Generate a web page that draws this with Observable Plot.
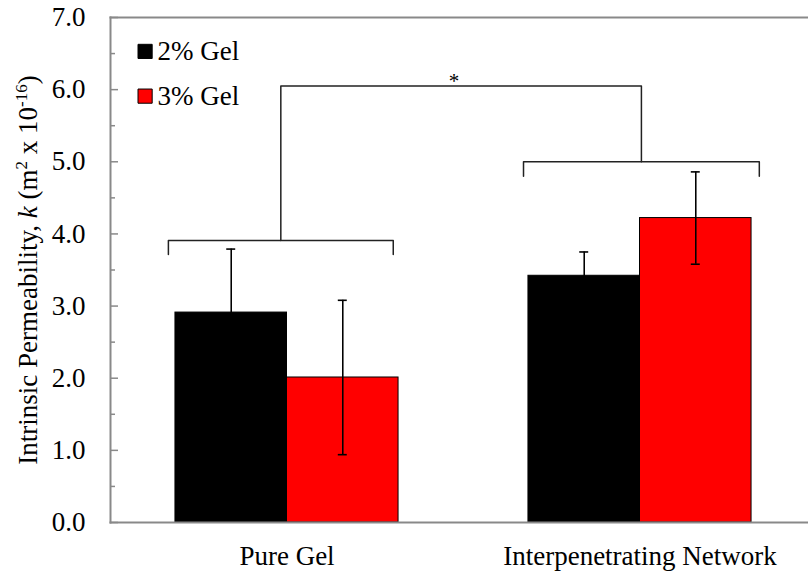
<!DOCTYPE html>
<html>
<head>
<meta charset="utf-8">
<script src="https://cdn.jsdelivr.net/npm/d3@7"></script>
<script src="https://cdn.jsdelivr.net/npm/@observablehq/plot@0.6"></script>
<style>
  html, body { margin: 0; padding: 0; background: #fff; }
  #chart { width: 808px; height: 572px; }
  #chart svg, #chart svg text { font-family: "Liberation Serif", "Times New Roman", serif; }
</style>
</head>
<body>
<div id="chart"></div>
<script>
// ---- data ----
const groups = ["Pure Gel", "Interpenetrating Network"];
const series = ["2% Gel", "3% Gel"];
const colors = ["#000000", "#ff0000"];
const means2 = [2.91, 3.42];
const errs2 = [0.88, 0.33];
const means3 = [2.01, 4.22];
const errs3 = [1.07, 0.64];
const yMajorTicks = [0, 1, 2, 3, 4, 5, 6, 7];
const yMinorTicks = [0.5, 1.5, 2.5, 3.5, 4.5, 5.5, 6.5];
// significance brackets (one per group), in data units
const bracketLeft = [-0.336, 0.670];
const bracketRight = [0.301, 1.338];
const bracketLevel = [3.91, 5.0];
const bracketFoot = [3.715, 4.80];
const sigLevel = 6.05;
const sigLabel = "*";

const serif = "'Liberation Serif', 'Times New Roman', serif";

// ---- build tables ----
const barW = 0.316;
const bars = [];
groups.forEach((g, gi) => {
  [[means2, errs2], [means3, errs3]].forEach(([m, e], si) => {
    const x1 = gi - barW + si * barW;
    bars.push({group: g, series: series[si], color: colors[si], x1, x2: x1 + barW, xc: x1 + barW / 2, value: m[gi], err: e[gi]});
  });
});
const capHalf = 0.0127;

const bracketPts = [];
groups.forEach((g, i) => {
  bracketPts.push({id: g, x: bracketLeft[i], y: bracketFoot[i]});
  bracketPts.push({id: g, x: bracketLeft[i], y: bracketLevel[i]});
  bracketPts.push({id: g, x: bracketRight[i], y: bracketLevel[i]});
  bracketPts.push({id: g, x: bracketRight[i], y: bracketFoot[i]});
});
const mid = i => (bracketLeft[i] + bracketRight[i]) / 2;
bracketPts.push({id: "sig", x: mid(0), y: bracketLevel[0]});
bracketPts.push({id: "sig", x: mid(0), y: sigLevel});
bracketPts.push({id: "sig", x: mid(1), y: sigLevel});
bracketPts.push({id: "sig", x: mid(1), y: bracketLevel[1]});

const legend = series.map((s, i) => ({label: s, color: colors[i], y: [6.53, 5.91][i]}));

const axisGray = "#898989";

const chart = Plot.plot({
  width: 808,
  height: 572,
  marginLeft: 110,
  marginRight: 0,
  marginTop: 17,
  marginBottom: 50,
  x: {domain: [-0.5, 1.5], range: [110, 816], axis: null},
  y: {domain: [0, 7], axis: null},
  style: {fontFamily: serif, fontSize: "27px", background: "#fff", color: "#000"},
  marks: [
    Plot.rectY(bars, {x1: "x1", x2: "x2", y1: 0, y2: "value", fill: "color", stroke: "#000", strokeWidth: 1}),
    Plot.ruleX(bars, {x: "xc", y1: d => d.value - d.err, y2: d => d.value + d.err, stroke: "#000", strokeWidth: 1.6}),
    Plot.ruleY(bars, {y: d => d.value + d.err, x1: d => d.xc - capHalf, x2: d => d.xc + capHalf, stroke: "#000", strokeWidth: 1.6}),
    Plot.ruleY(bars, {y: d => d.value - d.err, x1: d => d.xc - capHalf, x2: d => d.xc + capHalf, stroke: "#000", strokeWidth: 1.6}),
    Plot.line(bracketPts, {x: "x", y: "y", z: "id", stroke: "#222", strokeWidth: 1.5, curve: "linear"}),
    Plot.text([sigLabel], {x: (mid(0) + mid(1)) / 2 - 0.02, y: sigLevel, text: d => d, fontSize: 21, fontFamily: serif, lineAnchor: "bottom", dy: 2}),
    Plot.frame({anchor: "left", stroke: axisGray, strokeWidth: 2}),
    Plot.frame({anchor: "top", stroke: axisGray, strokeWidth: 2}),
    Plot.frame({anchor: "bottom", stroke: axisGray, strokeWidth: 2}),
    Plot.axisY(yMajorTicks, {tickSize: -8, tickPadding: 33, tickFormat: d => d.toFixed(1), stroke: axisGray, strokeWidth: 1.5, fontSize: 27, fontFamily: serif}),
    Plot.axisY(yMinorTicks, {tickSize: -5, tickPadding: 0, tickFormat: () => "", stroke: axisGray, strokeWidth: 1.5}),
    Plot.axisX([0, 1], {tickSize: 0, tickPadding: 23, tickFormat: i => groups[i], fontSize: 27, fontFamily: serif}),
    Plot.dot(legend, {x: -0.402, y: "y", symbol: "square", r: 8, fill: "color", stroke: "#000", strokeWidth: 1}),
    Plot.text(legend, {x: -0.367, y: "y", text: "label", textAnchor: "start", lineAnchor: "middle", fontSize: 27, fontFamily: serif})
  ]
});

// y-axis title with italic k and superscripts
const svg = d3.select(chart);
svg.attr("font-family", serif);
const t = svg.append("text")
  .attr("transform", "translate(37,270) rotate(-90)")
  .attr("text-anchor", "middle")
  .attr("font-family", serif)
  .attr("font-size", 27)
  .attr("fill", "#000");
t.append("tspan").text("Intrinsic Permeability, ");
t.append("tspan").attr("font-style", "italic").text("k");
t.append("tspan").text(" (m");
t.append("tspan").attr("font-size", 17).attr("dy", "-10").text("2");
t.append("tspan").attr("dy", "10").text(" x 10");
t.append("tspan").attr("font-size", 17).attr("dy", "-10").text("-16");
t.append("tspan").attr("dy", "10").text(")");

document.getElementById("chart").appendChild(chart);
</script>
</body>
</html>
